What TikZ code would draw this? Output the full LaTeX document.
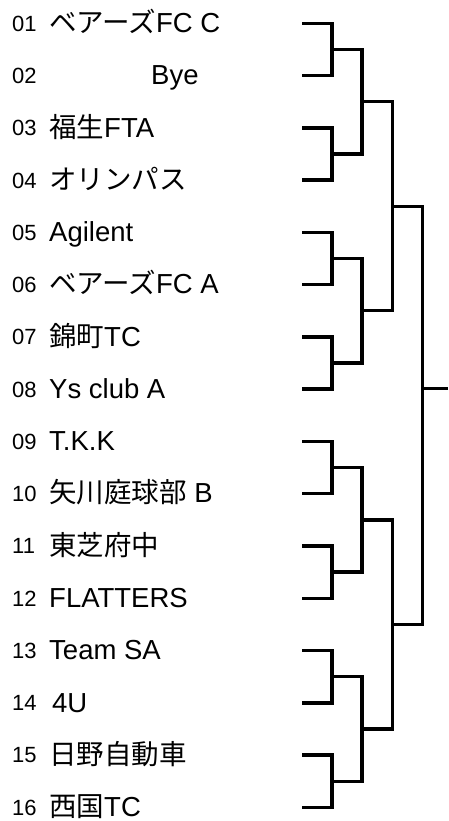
\documentclass[tikz,border=0pt]{standalone}
\usepackage{fontspec}
\setmainfont{Liberation Sans}
\newfontfamily\jp{Noto Sans CJK JP}
\usetikzlibrary{calc}

\tikzset{
    num/.style={anchor=base west, inner sep=0pt, font=\fontsize{22}{22}\selectfont},
    team/.style={anchor=base west, inner sep=0pt, text depth=0pt, font=\fontsize{27.5}{27.5}\selectfont},
    bracket/.style={line width=3.4pt, line join=miter},
}

\begin{document}
\begin{tikzpicture}[x=1pt, y=-1pt]
        \useasboundingbox (0,0) rectangle (448,821);

        % numbers and line ends
        \foreach \i [evaluate=\i as \y using 23.3+(\i-1)*52.27] in {1,...,16} {
            \node[num] (n\i) at (12,\y+7.9) {\ifnum\i<10 0\fi\i};
            \coordinate (e\i) at (302,\y);
        }

        % teams
        \foreach \i/\x/\name in {
            1/49/{{\jp ベアーズ}FC C},
            2/151/{Bye},
            3/49/{{\jp 福生}FTA},
            4/49/{{\jp オリンパス}},
            5/49/{Agilent},
            6/49/{{\jp ベアーズ}FC A},
            7/49/{{\jp 錦町}TC},
            8/49/{Ys club A},
            9/49/{T.K.K},
            10/49/{{\jp 矢川庭球部} B},
            11/49/{{\jp 東芝府中}},
            12/49/{FLATTERS},
            13/49/{Team SA},
            14/52/{4U},
            15/49/{{\jp 日野自動車}},
            16/49/{{\jp 西国}TC}} {
            \pgfmathsetmacro\y{23.3+(\i-1)*52.27+9.2}
            \node[team] (t\i) at (\x,\y) {\name};
        }

        % round 1
        \foreach \k in {1,...,8} {
            \pgfmathtruncatemacro\a{2*\k-1}
            \pgfmathtruncatemacro\b{2*\k}
            \coordinate (m1-\k) at ($(e\a)!.5!(e\b)+(30,0)$);
            \draw[bracket] (e\a) -| (m1-\k) |- (e\b);
        }
        % round 2
        \foreach \k in {1,...,4} {
            \pgfmathtruncatemacro\a{2*\k-1}
            \pgfmathtruncatemacro\b{2*\k}
            \coordinate (m2-\k) at ($(m1-\a)!.5!(m1-\b)+(30,0)$);
            \draw[bracket] (m1-\a) -| (m2-\k) |- (m1-\b);
        }
        % semi finals
        \foreach \k in {1,2} {
            \pgfmathtruncatemacro\a{2*\k-1}
            \pgfmathtruncatemacro\b{2*\k}
            \coordinate (m3-\k) at ($(m2-\a)!.5!(m2-\b)+(30.5,0)$);
            \draw[bracket] (m2-\a) -| (m3-\k) |- (m2-\b);
        }
        % final
        \coordinate (m4) at (422.5,388.3);
        \coordinate (win) at (448,388.3);
        \draw[bracket] (m3-1) -| (m4) |- (m3-2);
        \draw[bracket] (m4) -- (win);
\end{tikzpicture}
\end{document}
